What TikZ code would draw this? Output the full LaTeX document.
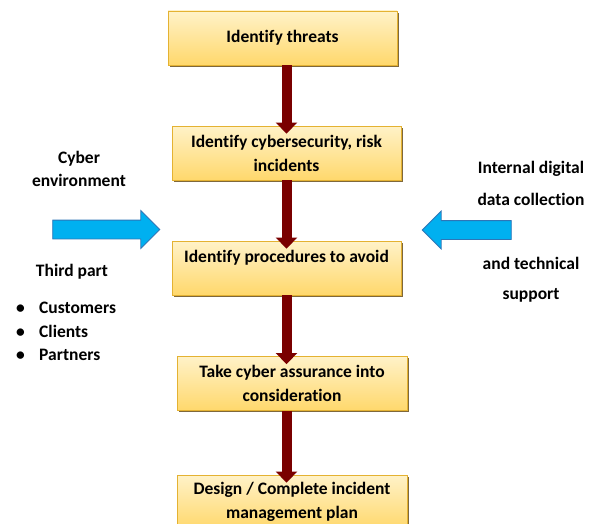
\documentclass[tikz,border=0pt]{standalone}
\usepackage{fontspec}
\setmainfont{Carlito}[Ligatures={NoCommon}]
\usetikzlibrary{arrows.meta}
\usetikzlibrary{shapes.arrows,shadows,positioning}

\definecolor{boxtop}{RGB}{255,242,200}
\definecolor{boxbot}{RGB}{255,216,108}
\definecolor{boxline}{RGB}{228,178,50}
\definecolor{boxshade}{RGB}{105,78,25}
\definecolor{stepred}{RGB}{122,0,0}
\definecolor{sideblue}{RGB}{0,176,240}
\definecolor{sideline}{RGB}{46,117,182}

\begin{document}
\begin{tikzpicture}[x=1pt,y=-1pt]
  \tikzset{stepbox/.style = {shape=rectangle,draw=boxline,line width=0.8pt,top color=boxtop,bottom color=boxbot,minimum width=229pt,minimum height=54pt,inner sep=2pt,align=center,font=\fontsize{17.5}{24}\selectfont\bfseries,drop shadow={shadow xshift=1.6pt,shadow yshift=-1.6pt,fill=boxshade,opacity=0.85}}}
  \tikzset{flow/.style = {line width=10pt,draw=stepred,-{Triangle[width=21pt,length=11pt]}}}
  \tikzset{sidearrow/.style = {single arrow,draw=sideline,fill=sideblue,line width=0.8pt,inner sep=0pt,inner ysep=9pt,single arrow head extend=9.5pt}}
  \tikzset{sidetext/.style = {align=center,inner sep=0pt,font=\fontsize{17.5}{24}\selectfont\bfseries}}

  \useasboundingbox (0,0) rectangle (591,524);

	\node[stepbox] (threats) at (282.5,38) {Identify threats};
	\node[stepbox] (incidents) at (286.5,153) {Identify cybersecurity, risk\\incidents};
	\node[stepbox] (procedures) at (286.5,268) {Identify procedures to avoid\\\mbox{}};
	\node[stepbox,minimum width=230pt] (assurance) at (292,383.5) {Take cyber assurance into\\consideration};
	\node[stepbox,minimum width=230pt] (plan) at (292,502) {Design / Complete incident\\management plan};

    \draw[flow] (threats.south -| incidents) -- ([yshift=-8pt]incidents.north);
    \draw[flow] (incidents.south) -- ([yshift=-8pt]procedures.north);
    \draw[flow] (procedures.south) -- ([yshift=-8pt]assurance.north -| procedures);
    \draw[flow] (assurance.south -| procedures) -- ([yshift=-8pt]plan.north -| procedures);

	\node[sidearrow,minimum height=107pt] (leftin) at (101.5,229.5) {};
	\node[sidearrow,minimum height=89pt,shape border rotate=180] (rightin) at (471.5,230) {};

	\node[sidetext] (cyber) at (79,168.5) {Cyber\\[-1pt]environment};
	\node[sidetext] (third) at (72,272) {Third part};
	\node[sidetext,anchor=mid west] (customers) at (16,311) {\makebox[23pt][l]{\textbullet}Customers};
	\node[sidetext,anchor=mid west] (clients) at (16,335) {\makebox[23pt][l]{\textbullet}Clients};
	\node[sidetext,anchor=mid west] (partners) at (16,358) {\makebox[23pt][l]{\textbullet}Partners};

	\node[sidetext] (internal) at (531,183) {Internal digital\\[8pt]data collection};
	\node[sidetext] (support) at (531,280) {and technical\\[6pt]support};

\end{tikzpicture}
\end{document}
